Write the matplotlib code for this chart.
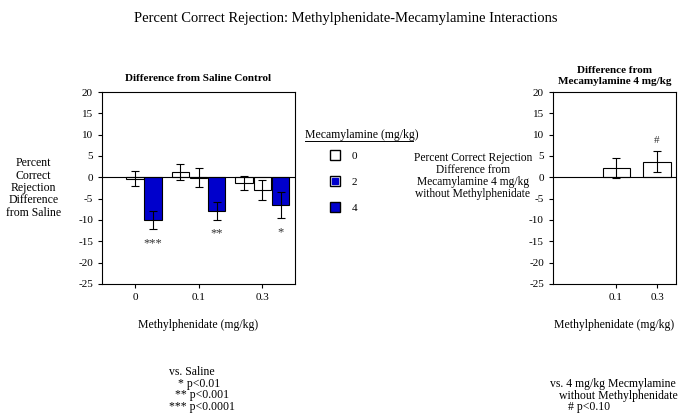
import numpy as np
import matplotlib
matplotlib.use('Agg')
import matplotlib.pyplot as plt
from matplotlib.lines import Line2D

plt.rcParams['font.family'] = 'Liberation Serif'
plt.rcParams['axes.unicode_minus'] = False

doses = ['0', '0.1', '0.3']
mec_levels = ['0', '2', '4']

# difference from saline control (mec 0 at MPH 0 is the control itself)
mec0 = [np.nan, 1.2, -1.3]
mec0_err = [np.nan, 1.9, 1.7]
mec2 = [-0.3, -0.1, -3.0]
mec2_err = [1.8, 2.2, 2.4]
mec4 = [-10.0, -7.9, -6.5]
mec4_err = [2.2, 2.1, 3.1]
stars = ['***', '**', '*']

# difference from mecamylamine 4 mg/kg without methylphenidate
doses_r = ['0.1', '0.3']
mec4_r = [2.2, 3.7]
mec4_r_err = [2.4, 2.4]
marks_r = ['', '#']

blue = '#0000cc'

fig = plt.figure(figsize=(6.92, 4.15), dpi=100)
fig.text(0.5, 0.955, 'Percent Correct Rejection: Methylphenidate-Mecamylamine Interactions',
         ha='center', va='center', fontsize=10.5)

ax = fig.add_axes([0.1474, 0.3157, 0.279, 0.4626])
g = np.array([0, 3.5, 7.0])
w = 0.95
ax.bar(g - 1, mec0, w, color='white', edgecolor='black', linewidth=0.8)
ax.bar(g, mec2, w, color='white', edgecolor='black', linewidth=0.8)
ax.bar(g + 1, mec4, w, color=blue, edgecolor='black', linewidth=0.8)
for off, vals, errs in [(-1, mec0, mec0_err), (0, mec2, mec2_err), (1, mec4, mec4_err)]:
    ax.errorbar(g + off, vals, yerr=errs, fmt='none', ecolor='black',
                elinewidth=0.8, capsize=3, capthick=0.8)
for i, s in enumerate(stars):
    y = mec4[i] - mec4_err[i] - 3.2
    ax.text(g[i] + 1, y, s, ha='center', va='center', fontsize=9, color='#333333')
ax.axhline(0, color='black', linewidth=0.8)
ax.set_xlim(-1.81, 8.8)
ax.set_ylim(-25, 20)
ax.set_yticks(np.arange(-25, 21, 5))
ax.set_xticks(g)
ax.set_xticklabels(doses)
ax.tick_params(labelsize=8, length=3)
ax.set_xlabel('Methylphenidate (mg/kg)', fontsize=8.5, labelpad=12)
ax.set_ylabel('Percent\nCorrect\nRejection\nDifference\nfrom Saline', fontsize=8.5,
              rotation=0, ha='center', va='center', labelpad=32, linespacing=1.05)
ax.set_title('Difference from Saline Control', fontsize=8, fontweight='bold', pad=8)

# legend: title drawn as underlined text, entries below it
fig.text(0.441, 0.675, 'Mecamylamine (mg/kg)', fontsize=8.5, va='center', ha='left')
fig.add_artist(Line2D([0.441, 0.597], [0.66, 0.66], color='black', linewidth=0.7))
handles = [
    Line2D([], [], marker='s', ms=7, mfc='white', mec='black', ls=''),
    (Line2D([], [], marker='s', ms=7, mfc='white', mec='black', ls=''),
     Line2D([], [], marker='s', ms=4, mfc=blue, mec=blue, ls='')),
    Line2D([], [], marker='s', ms=7, mfc=blue, mec='black', ls=''),
]
leg = fig.legend(handles, mec_levels, loc='upper left', bbox_to_anchor=(0.462, 0.66),
                 frameon=False, fontsize=8, handlelength=1.0, handletextpad=1.0,
                 labelspacing=1.45)

ax2 = fig.add_axes([0.799, 0.3157, 0.1777, 0.4626])
x2 = np.array([1, 2])
ax2.bar(x2, mec4_r, 0.66, color='white', edgecolor='black', linewidth=0.8)
ax2.errorbar(x2, mec4_r, yerr=mec4_r_err, fmt='none', ecolor='black',
             elinewidth=0.8, capsize=3, capthick=0.8)
for i, s in enumerate(marks_r):
    if s:
        ax2.text(x2[i], mec4_r[i] + mec4_r_err[i] + 2.5, s, ha='center', va='center',
                 fontsize=8, color='#333333')
ax2.axhline(0, color='black', linewidth=0.8)
ax2.set_xlim(-0.54, 2.46)
ax2.set_ylim(-25, 20)
ax2.set_yticks(np.arange(-25, 21, 5))
ax2.set_xticks(x2)
ax2.set_xticklabels(doses_r)
ax2.tick_params(labelsize=8, length=3)
ax2.set_xlabel('Methylphenidate (mg/kg)', fontsize=8.5, labelpad=12)
ax2.set_ylabel('Percent Correct Rejection\nDifference from\nMecamylamine 4 mg/kg\nwithout Methylphenidate',
               fontsize=8.3, rotation=0, ha='center', va='center', labelpad=36, linespacing=1.0)
ax2.yaxis.set_label_coords(-0.65, 0.56)
ax2.set_title('Difference from\nMecamylamine 4 mg/kg', fontsize=8, fontweight='bold', pad=6,
              linespacing=1.25)

foot_l = ['vs. Saline', '   * p<0.01', '  ** p<0.001', '*** p<0.0001']
for i, line in enumerate(foot_l):
    fig.text(0.244, 1 - (372 + 11.5 * i) / 415, line, fontsize=8.5, va='center', ha='left')
foot_r = ['vs. 4 mg/kg Mecmylamine', '   without Methylphenidate', '      # p<0.10']
for i, line in enumerate(foot_r):
    fig.text(0.795, 1 - (384 + 11.5 * i) / 415, line, fontsize=8.5, va='center', ha='left')

fig.savefig('out.png', dpi=100)
